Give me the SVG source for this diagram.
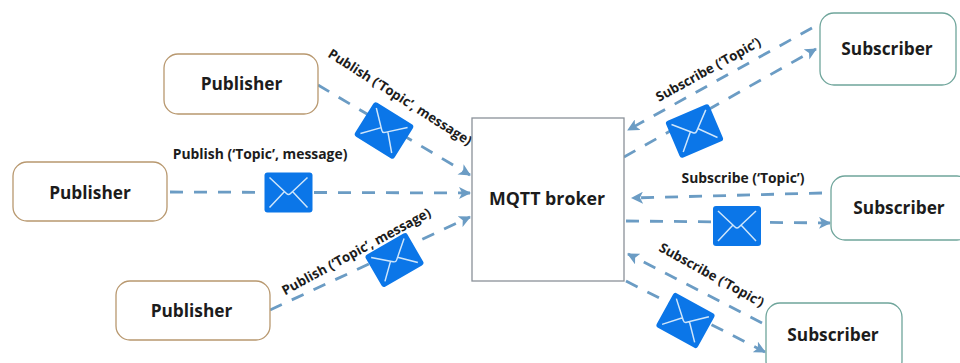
<svg xmlns="http://www.w3.org/2000/svg" xmlns:xlink="http://www.w3.org/1999/xlink" width="960" height="363" viewBox="0 0 960 363">
<style>
text{font-family:"Open Sans","Liberation Sans",sans-serif;font-weight:700;fill:#1c1c1c}
.n{font-size:17.3px;text-anchor:middle}
.l{font-size:13.9px;text-anchor:middle}
.r{font-size:13.3px}
.pub{fill:#fff;stroke:#b8986f;stroke-width:1.3}
.sub{fill:#fff;stroke:#6fa59b;stroke-width:1.3}
.c{fill:none;stroke:#6b9cc4;stroke-width:2.8;stroke-dasharray:13 11;marker-end:url(#a)}
.e{fill:#0b76e8}
.f{fill:none;stroke:#cfe6fb;stroke-width:1.5}
</style>
<defs>
<marker id="a" markerUnits="userSpaceOnUse" markerWidth="13" markerHeight="12" refX="11" refY="6" orient="auto"><path d="M0 0L12 6L0 12L3 6Z" fill="#6b9cc4"/></marker>
<g id="env"><rect class="e" x="-24" y="-20" width="48" height="40" rx="3"/><path class="f" d="M-19-15L-2 1Q0 3 2 1L19-15M-19 15L-4-1M19 15L4-1"/></g>
</defs>
<rect width="960" height="363" fill="#fff"/>
<g id="connectors">
<path class="c" d="M318 85L470 175"/>
<path class="c" d="M170 192L470 193"/>
<path class="c" d="M270 310L470 217"/>
<path class="c" d="M812 28L628 130"/>
<path class="c" d="M624 157L816 49"/>
<path class="c" d="M822 193L632 198"/>
<path class="c" d="M626 221L830 223"/>
<path class="c" d="M762 323L628 254"/>
<path class="c" d="M626 281L765 352"/>
</g>
<g id="env1"><use xlink:href="#env" href="#env" transform="translate(384 130.500) rotate(32) scale(.97 1)"/></g>
<g id="env2"><use xlink:href="#env" href="#env" transform="translate(288.500 192.500)"/></g>
<g id="env3"><use xlink:href="#env" href="#env" transform="translate(394.500 260) rotate(-30) scale(1 .92)"/></g>
<g id="env4"><use xlink:href="#env" href="#env" transform="translate(694.500 131) rotate(-23) scale(.98 1)"/></g>
<g id="env5"><use xlink:href="#env" href="#env" transform="translate(737 226)"/></g>
<g id="env6"><use xlink:href="#env" href="#env" transform="translate(685.500 320.500) rotate(29) scale(.98 .98)"/></g>
<g id="pub1"><rect class="pub" x="164" y="54" width="154" height="60" rx="14"/><text class="n" x="241.500" y="90">Publisher</text></g>
<g id="pub2"><rect class="pub" x="13" y="162" width="154" height="59" rx="14"/><text class="n" x="90" y="199">Publisher</text></g>
<g id="pub3"><rect class="pub" x="116" y="281" width="154" height="59" rx="14"/><text class="n" x="191.500" y="317">Publisher</text></g>
<g id="broker"><rect x="472" y="118" width="152" height="163" fill="#fff" stroke="#8a9199" stroke-width="1.3"/><text class="n" x="547" y="205" style="font-size:17.8px">MQTT broker</text></g>
<g id="sub1"><rect class="sub" x="820" y="13" width="136" height="72" rx="14"/><text class="n" x="887" y="55">Subscriber</text></g>
<g id="sub2"><rect class="sub" x="831" y="176" width="140" height="64" rx="14"/><text class="n" x="899" y="214">Subscriber</text></g>
<g id="sub3"><rect class="sub" x="766" y="303" width="136" height="72" rx="14"/><text class="n" x="833" y="341">Subscriber</text></g>
<g id="labels">
<text class="l r" transform="translate(397.500 101) rotate(32.400)">Publish (‘Topic’, message)</text>
<text class="l" x="260" y="159">Publish (‘Topic’, message)</text>
<text class="l r" transform="translate(358.500 255.500) rotate(-28.500)">Publish (‘Topic’, message)</text>
<text class="l r" transform="translate(710.500 73.500) rotate(-29)">Subscribe (‘Topic’)</text>
<text class="l" x="743" y="183">Subscribe (‘Topic’)</text>
<text class="l r" transform="translate(709.500 279) rotate(29)">Subscribe (‘Topic’)</text>
</g>
</svg>
